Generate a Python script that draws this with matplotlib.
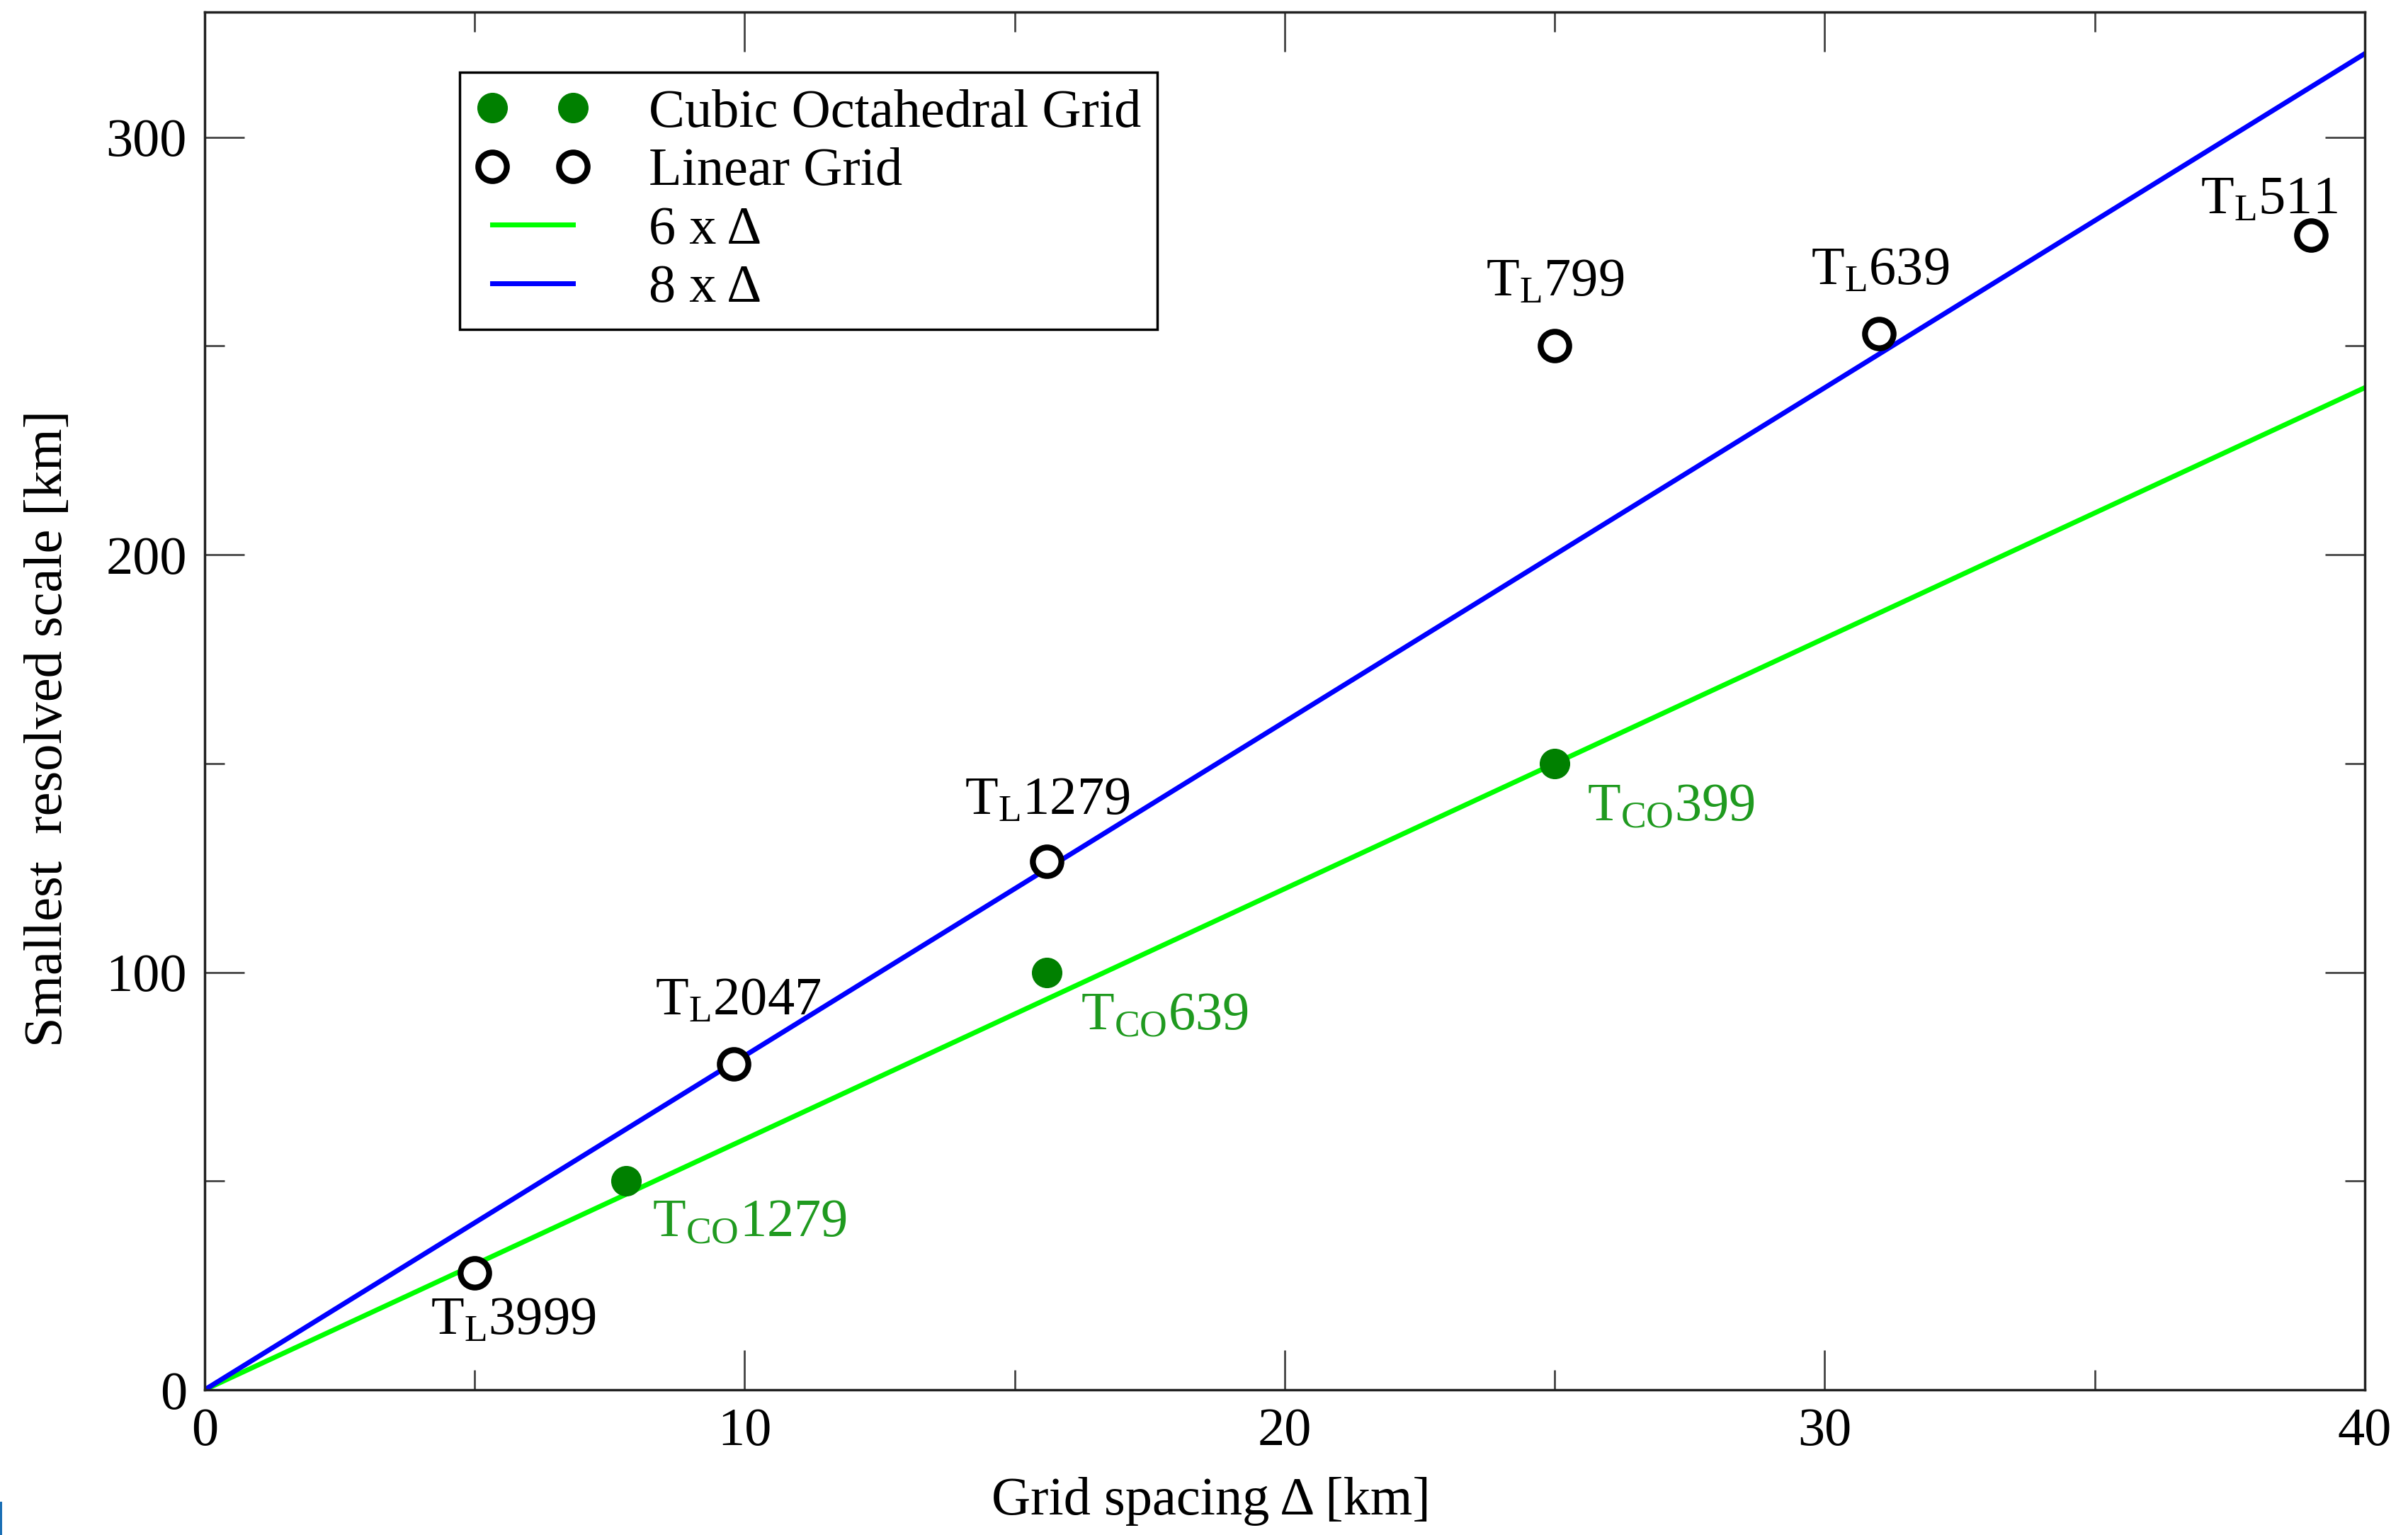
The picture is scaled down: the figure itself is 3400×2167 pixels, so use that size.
import matplotlib
matplotlib.use('Agg')
import matplotlib.pyplot as plt
import numpy as np
from matplotlib.patches import Rectangle

plt.rcParams['font.family'] = ['Liberation Serif', 'DejaVu Serif']
plt.rcParams['mathtext.fontset'] = 'custom'
plt.rcParams['mathtext.rm'] = 'Liberation Serif'
plt.rcParams['mathtext.it'] = 'Liberation Serif:italic'

# linear grid (open circles)
lin_dx = [5.0, 9.8, 15.6, 25.0, 31.0, 39.0]
lin_scale = [28, 78, 126.5, 250, 253, 276.5]
lin_names = ['3999', '2047', '1279', '799', '639', '511']

# cubic octahedral grid (filled)
co_dx = [7.8, 15.6, 25.0]
co_scale = [50, 100, 150]
co_names = ['1279', '639', '399']

line_x = [0, 40]
factor6 = 6
factor8 = 8

# label offsets in points (text baseline start relative to marker)
lin_off = [(-45, -62), (-80, 50), (-84, 48), (-70, 51), (-69, 50), (-112, 22)]
co_off = [(27, -56), (34, -58), (33, -58)]

fig = plt.figure(figsize=(34, 21.67), dpi=100)
ax = fig.add_axes([0.085, 0.0946, 0.897, 0.8976])

xs = np.array(line_x, dtype=float)
ax.plot(xs, factor6 * xs, color='#00ff00', lw=5, label='6 x \u0394', zorder=2)
ax.plot(xs, factor8 * xs, color='#0000ff', lw=5, label='8 x \u0394', zorder=2)
ax.plot(co_dx, co_scale, 'o', color='#008000', ms=30, ls='none',
        label='Cubic Octahedral Grid', zorder=3)
ax.plot(lin_dx, lin_scale, 'o', mfc='white', mec='black', mew=6, ms=29,
        ls='none', label='Linear Grid', zorder=3)

for x, y, n, (dx, dy) in zip(lin_dx, lin_scale, lin_names, lin_off):
    ax.annotate(r'T$_\mathrm{L}$' + n, (x, y), xytext=(dx, dy),
                textcoords='offset points', ha='left', va='baseline',
                fontsize=55, color='black')
for x, y, n, (dx, dy) in zip(co_dx, co_scale, co_names, co_off):
    ax.annotate(r'T$_\mathrm{CO}$' + n, (x, y), xytext=(dx, dy),
                textcoords='offset points', ha='left', va='baseline',
                fontsize=55, color='#1f9a1f')

ax.set_xlim(0, 40)
ax.set_ylim(0, 330)
ax.set_xticks([0, 10, 20, 30, 40])
ax.set_xticks([5, 15, 25, 35], minor=True)
ax.set_yticks([0, 100, 200, 300])
ax.set_yticks([50, 150, 250], minor=True)
ax.tick_params(which='both', direction='in', top=True, right=True,
               labelsize=55, pad=18, color='#444444')
ax.tick_params(which='major', length=40, width=2)
ax.tick_params(which='minor', length=20, width=2)
for s in ax.spines.values():
    s.set_linewidth(2.5)
    s.set_color('#222222')

ax.set_xlabel('Grid spacing \u0394 [km]', fontsize=55)
ax.set_ylabel('Smallest  resolved scale [km]', fontsize=55)
ax.xaxis.set_label_coords(0.466, -0.063)
ax.yaxis.set_label_coords(-0.061, 0.48)

h, l = ax.get_legend_handles_labels()
order = [2, 3, 0, 1]
leg = ax.legend([h[i] for i in order], [l[i] for i in order],
                loc='upper left', bbox_to_anchor=(0.118, 0.956),
                borderaxespad=0, numpoints=2, fontsize=55, fancybox=False,
                framealpha=1, edgecolor='black', handlelength=2.1,
                handletextpad=1.1, labelspacing=0.17, borderpad=0.3,
                markerscale=1.0)
leg.get_frame().set_linewidth(2.5)

fig.add_artist(Rectangle((0, 0), 3 / 3400, 47 / 2167, transform=fig.transFigure,
                         color='#1a6fb5', lw=0))

fig.savefig('out.png', dpi=100)
